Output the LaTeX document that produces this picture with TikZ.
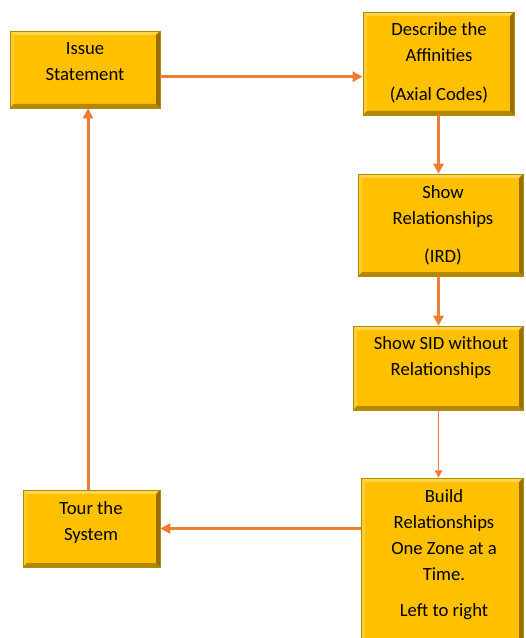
\documentclass[tikz,border=0pt]{standalone}
\usepackage{fontspec}
\setmainfont{Carlito}
\usetikzlibrary{arrows.meta}
\definecolor{boxfill}{HTML}{FFC000}
\definecolor{bevtop}{HTML}{FFD54A}
\definecolor{bevleft}{HTML}{FFCB2E}
\definecolor{bevbottom}{HTML}{B38700}
\definecolor{bevright}{HTML}{967000}
\definecolor{boxedge}{HTML}{B08A10}
\definecolor{flowedge}{HTML}{ED7D31}
\tikzset{
  flowbox/.style={draw=boxedge, line width=0.5pt, fill=boxfill, inner sep=0pt,
    path picture={
      \fill[bevtop] (path picture bounding box.north west) -- (path picture bounding box.north east)
        -- ([shift={(-3pt,-3pt)}]path picture bounding box.north east)
        -- ([shift={(3pt,-3pt)}]path picture bounding box.north west) -- cycle;
      \fill[bevleft] (path picture bounding box.north west) -- (path picture bounding box.south west)
        -- ([shift={(3pt,3pt)}]path picture bounding box.south west)
        -- ([shift={(3pt,-3pt)}]path picture bounding box.north west) -- cycle;
      \fill[bevbottom] (path picture bounding box.south west) -- (path picture bounding box.south east)
        -- ([shift={(-3pt,3pt)}]path picture bounding box.south east)
        -- ([shift={(3pt,3pt)}]path picture bounding box.south west) -- cycle;
      \fill[bevright] (path picture bounding box.north east) -- (path picture bounding box.south east)
        -- ([shift={(-3pt,3pt)}]path picture bounding box.south east)
        -- ([shift={(-3pt,-3pt)}]path picture bounding box.north east) -- cycle;
    }},
  boxtext/.style={align=center, inner sep=0pt, text=black,
    font=\fontsize{14pt}{19.5pt}\selectfont},
  flow/.style={draw=flowedge, line width=2.25pt, -{Triangle[length=7.5pt,width=7.5pt]}},
  thinflow/.style={draw=flowedge, line width=1.1pt, -{Triangle[length=5.5pt,width=5.5pt]}}
}
\begin{document}
\begin{tikzpicture}[x=0.75pt, y=-0.75pt]
  \useasboundingbox (0,0) rectangle (525,638);
  \clip (0,0) rectangle (525,638);

  \node[flowbox, minimum width=112.5pt, minimum height=57.75pt] (issue) at (85,69.5) {};
  \node[flowbox, minimum width=113.25pt, minimum height=77.25pt] (desc) at (438.5,63.5) {};
  \node[flowbox, minimum width=123.75pt, minimum height=76.5pt] (rel) at (440.5,225) {};
  \node[flowbox, minimum width=127.5pt, minimum height=63pt] (sid) at (438,368) {};
  \node[flowbox, minimum width=102.75pt, minimum height=57.75pt] (tour) at (91.5,528.5) {};
  \node[flowbox, minimum width=121.5pt, minimum height=129pt] (build) at (442,564) {};

  \node[boxtext] (issuet) at (85,62) {Issue\\Statement};
  \node[boxtext] (desct) at (439,62.5) {Describe the\\Affinities\\[9.75pt](Axial Codes)};
  \node[boxtext] (relt) at (443,225) {Show\\Relationships\\[9pt](IRD)};
  \node[boxtext] (sidt) at (441,357.5) {Show SID without\\Relationships};
  \node[boxtext] (tourt) at (91,523) {Tour the\\System};
  \node[boxtext] (buildt) at (444,554.5) {Build\\Relationships\\One Zone at a\\Time.\\[7.5pt]Left to right};

  \draw[flow] ([yshift=-5.4pt]issue.east) -- ([yshift=-5.4pt]issue.east -| desc.west);
  \draw[flow] (desc.south) -- (desc.south |- rel.north);
  \draw[flow] (rel.south -| desc.south) -- (desc.south |- sid.north);
  \draw[thinflow] (sid.south -| desc.south) -- (desc.south |- build.north);
  \draw[flow] (build.west |- tour.east) -- (tour.east);
  \draw[flow] ([xshift=-2.6pt]tour.north) -- ([xshift=-2.6pt]tour.north |- issue.south);
\end{tikzpicture}
\end{document}
